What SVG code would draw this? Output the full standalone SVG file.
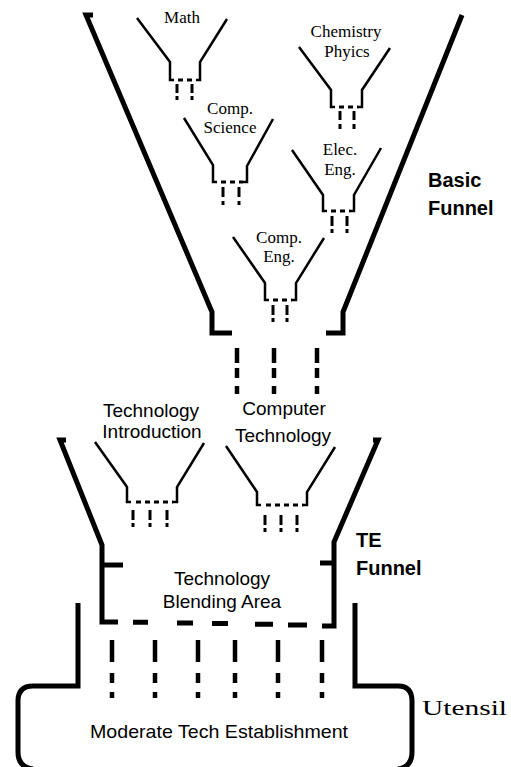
<svg xmlns="http://www.w3.org/2000/svg" width="511" height="767" viewBox="0 0 511 767">
<style>
.thick{fill:none;stroke:#000;stroke-width:5;stroke-linejoin:miter;stroke-linecap:butt}
.thin{fill:none;stroke:#000;stroke-width:2.5;stroke-linejoin:miter}
.dash{fill:none;stroke:#000;stroke-width:3;stroke-dasharray:5 4}
.drop{fill:none;stroke:#000;stroke-width:3}
.drop4{fill:none;stroke:#000;stroke-width:4.5}
.serif{font-family:"Liberation Serif","Times New Roman",serif;font-size:17px;fill:#000;text-anchor:middle}
.sans{font-family:"Liberation Sans",Arial,sans-serif;font-size:19px;fill:#000;text-anchor:middle}
.bold{font-family:"Liberation Sans",Arial,sans-serif;font-size:20px;font-weight:bold;fill:#000}
</style>
<rect width="511" height="767" fill="#fff"/>

<g id="basic-funnel">
<path class="thick" d="M93,15 H86 L212,312 V333 H232"/>
<path class="thick" d="M462,15 L343,312 V333 H326"/>
<text class="bold" x="428" y="187">Basic</text>
<text class="bold" x="428" y="215">Funnel</text>
</g>

<g id="math">
<path class="thin" d="M137,18 L170,62 V80 H174"/>
<path class="thin" d="M196,80 H200 V62 L227,19"/>
<line class="dash" x1="178" y1="80" x2="196" y2="80" stroke-dasharray="5 3"/>
<text class="serif" x="182" y="23">Math</text>
</g>

<g id="chemistry">
<path class="thin" d="M299,47 L331,90 V107 H335"/>
<path class="thin" d="M358,107 H362 V90 L390,48"/>
<line class="dash" x1="339" y1="107" x2="358" y2="107" stroke-dasharray="6 3"/>
<text class="serif" x="346" y="37">Chemistry</text>
<text class="serif" x="347" y="57">Phyics</text>
</g>

<g id="comp-science">
<path class="thin" d="M184,118 L213,165 V182 H217"/>
<path class="thin" d="M243,182 H247 V166 L273,119"/>
<line class="dash" x1="221" y1="182" x2="243" y2="182" stroke-dasharray="6 3"/>
<text class="serif" x="230" y="114">Comp.</text>
<text class="serif" x="230" y="133">Science</text>
</g>

<g id="elec-eng">
<path class="thin" d="M292,150 L323,195 V211 H327"/>
<path class="thin" d="M350,211 H354 V195 L381,148"/>
<line class="dash" x1="331" y1="211" x2="350" y2="211" stroke-dasharray="6 3"/>
<text class="serif" x="340" y="155">Elec.</text>
<text class="serif" x="340" y="175">Eng.</text>
</g>

<g id="comp-eng">
<path class="thin" d="M233,237 L265,283 V300 H269"/>
<path class="thin" d="M292,300 H296 V283 L324,238"/>
<line class="dash" x1="273" y1="300" x2="292" y2="300" stroke-dasharray="6 3"/>
<text class="serif" x="279" y="243">Comp.</text>
<text class="serif" x="279" y="262">Eng.</text>
</g>

<g id="tech-intro">
<path class="thin" d="M95,442 L127,487 V502 H131"/>
<path class="thin" d="M173,502 H177 V487 L204,443"/>
<line class="dash" x1="136" y1="502" x2="173" y2="502" stroke-dasharray="6 5"/>
<text class="sans" x="151" y="417">Technology</text>
<text class="sans" x="152" y="438">Introduction</text>
</g>

<g id="comp-tech">
<path class="thin" d="M226,446 L257,492 V505 H261"/>
<path class="thin" d="M303,505 H307 V492 L335,447"/>
<line class="dash" x1="266" y1="505" x2="303" y2="505" stroke-dasharray="6 5"/>
<text class="sans" x="284" y="415">Computer</text>
<text class="sans" x="283" y="442">Technology</text>
</g>

<g id="te-funnel">
<path class="thick" d="M66,440 H60 L102,545 V622 H118"/>
<line class="thick" x1="102" y1="565" x2="123" y2="565"/>
<path class="thick" d="M373,440 H378 L334,542 V626 H322"/>
<line class="thick" x1="320" y1="563" x2="334" y2="563"/>
<path class="thick" d="M133,622.3 H148 M177,623 H193 M212,623.5 H228 M255,624.3 H273 M288,625 H307"/>
<text class="bold" x="356" y="547">TE</text>
<text class="bold" x="356" y="575">Funnel</text>
<text class="sans" x="222" y="585">Technology</text>
<text class="sans" x="222" y="608">Blending Area</text>
</g>

<g id="utensil">
<path class="thick" d="M78,603 V686 H33 Q18,686 18,701 V752 Q18,767 33,769"/>
<path class="thick" d="M355,603 V686 H398 Q412,686 412,701 V752 Q412,767 398,769"/>
<text class="sans" x="219" y="738" textLength="258" lengthAdjust="spacingAndGlyphs">Moderate Tech Establishment</text>
<text x="422" y="715" font-family="'Liberation Serif','Times New Roman',serif" font-size="20" textLength="85" lengthAdjust="spacingAndGlyphs">Utensil</text>
</g>

<g id="connectors">
<path class="drop" d="M177,84 V93 M177,96 V100 M192,84 V93 M192,96 V100"/>
<path class="drop" d="M340,111 V120 M340,124 V129 M354,111 V120 M354,124 V129"/>
<path class="drop" d="M223,187 V197 M223,201 V205 M239,187 V197 M239,201 V205"/>
<path class="drop" d="M332,216 V226 M332,229 V233 M347,216 V226 M347,229 V233"/>
<path class="drop" d="M273,305 V315 M273,318 V322 M287,305 V315 M287,318 V322"/>
<path class="drop4" d="M237,348 V363 M237,368 V378 M237,386 V394 M274,348 V363 M274,368 V378 M274,386 V394 M317,348 V363 M317,368 V378 M317,386 V394"/>
<path class="drop" d="M133,510 V520 M133,523 V527 M150,510 V520 M150,523 V527 M167,510 V520 M167,523 V527"/>
<path class="drop" d="M265,515 V525 M265,528 V532 M281,515 V525 M281,528 V532 M297,515 V525 M297,528 V532"/>
<path class="drop4" d="M112,640 V662 M112,673 V683 M112,692 V698 M155,640 V662 M155,673 V683 M155,692 V698 M198,640 V662 M198,673 V683 M198,692 V698 M235,640 V662 M235,673 V683 M235,692 V698 M278,640 V662 M278,673 V683 M278,692 V698 M322,640 V662 M322,673 V683 M322,692 V698"/>
</g>
</svg>
